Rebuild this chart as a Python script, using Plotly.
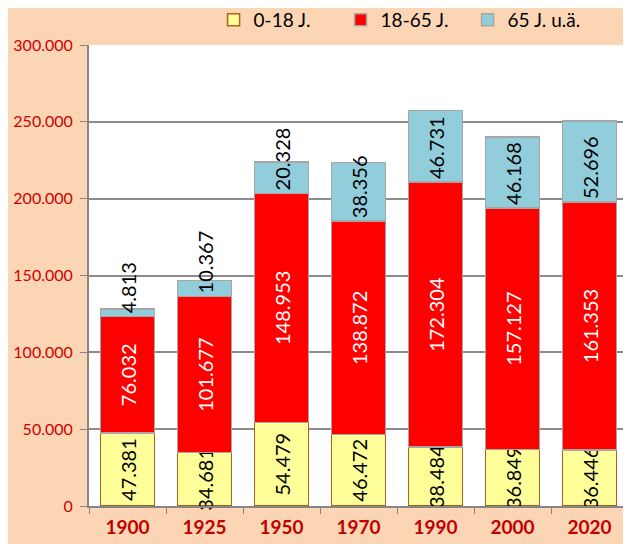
import plotly.graph_objects as go

# Population by age group
years = ["1900", "1925", "1950", "1970", "1990", "2000", "2020"]
age_0_18 = [47381, 34681, 54479, 46472, 38484, 36849, 36446]
age_18_65 = [76032, 101677, 148953, 138872, 172304, 157127, 161353]
age_65_plus = [4813, 10367, 20328, 38356, 46731, 46168, 52696]

label_font = "Lato, Open Sans, sans-serif"

fig = go.Figure()

fig.add_trace(go.Bar(
    x=years, y=age_0_18, name="0-18 J.",
    marker=dict(color="#FFFF99", line=dict(color="#B0601E", width=1.5)),
    texttemplate="%{y:,}", textposition="inside", insidetextanchor="middle",
    textangle=-90, constraintext="none", cliponaxis=False,
    insidetextfont=dict(color="black", size=20, family=label_font),
))
fig.add_trace(go.Bar(
    x=years, y=age_18_65, name="18-65 J.",
    marker=dict(color="#FF0000", line=dict(color="#A6A6A6", width=1.5)),
    texttemplate="%{y:,}", textposition="inside", insidetextanchor="middle",
    textangle=-90, constraintext="none", cliponaxis=False,
    insidetextfont=dict(color="white", size=20, family=label_font),
))
fig.add_trace(go.Bar(
    x=years, y=age_65_plus, name="65 J. u.ä.",
    marker=dict(color="#92CDDC", line=dict(color="#A6A6A6", width=1.5)),
    texttemplate="%{y:,}", textposition="inside", insidetextanchor="start",
    textangle=-90, constraintext="none", cliponaxis=False,
    insidetextfont=dict(color="black", size=20, family=label_font),
))

# the page body adds an 8px margin, so the figure is sized/shifted for it
fig.update_layout(
    width=623, height=536,
    barmode="stack", bargap=0.3,
    separators=",.",
    paper_bgcolor="#FCD5B4", plot_bgcolor="white",
    margin=dict(l=81, r=3, t=37, b=38, autoexpand=False),
    font=dict(family=label_font, size=15, color="black"),
    legend=dict(
        orientation="h", xref="container", yref="container",
        x=0.33, xanchor="left", y=0.978, yanchor="middle",
        font=dict(size=19), traceorder="normal", itemwidth=30,
        entrywidth=82, entrywidthmode="pixels",
    ),
    xaxis=dict(
        automargin=False,
        showline=True, linecolor="#868686", linewidth=2,
        ticks="outside", tickson="boundaries", ticklen=6, tickcolor="#868686",
        ticklabelstandoff=3,
        tickfont=dict(size=19, color="#C00000", family=label_font, weight="bold"),
    ),
    yaxis=dict(
        automargin=False,
        range=[0, 300000], dtick=50000, tickformat=",d",
        showline=True, linecolor="#868686", linewidth=2,
        gridcolor="#8C8C8C", gridwidth=1.5,
        ticks="outside", ticklen=7, tickcolor="#868686",
        ticklabelstandoff=4,
        tickfont=dict(size=16, color="#CC0000"),
        zeroline=False,
    ),
)

fig.write_html("out.html")
